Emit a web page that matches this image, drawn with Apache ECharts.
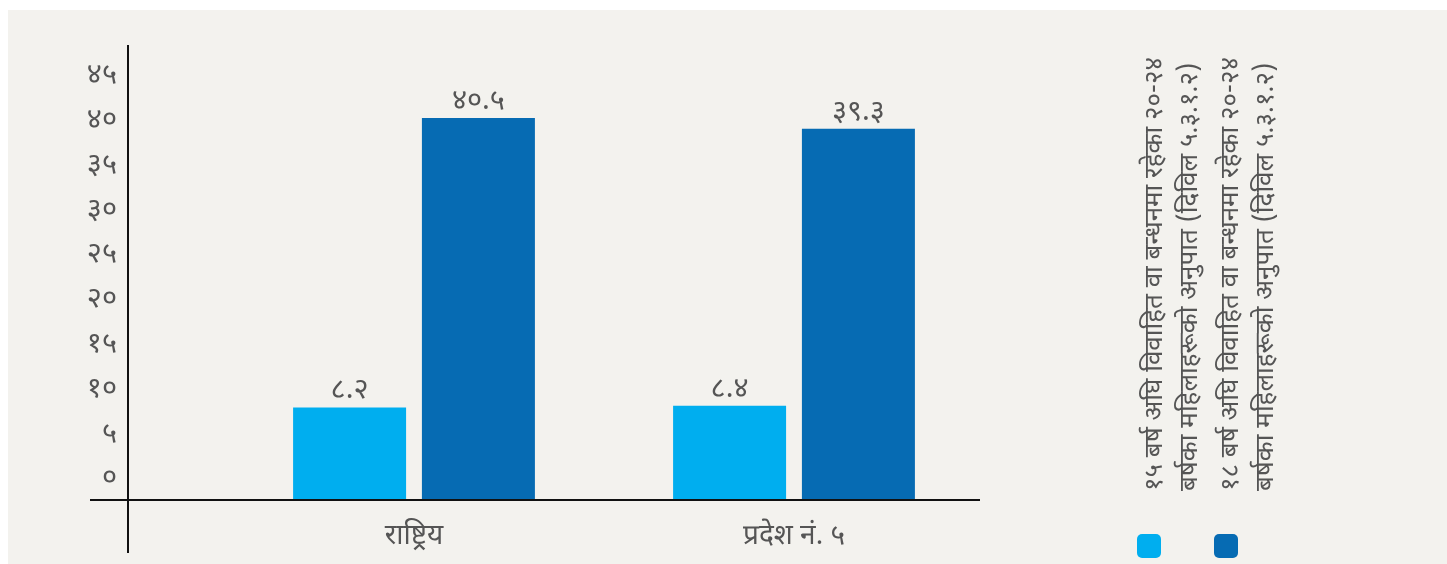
<!DOCTYPE html>
<html><head><meta charset="utf-8">
<script src="https://cdn.jsdelivr.net/npm/echarts@6/dist/echarts.min.js"></script>
<style>html,body{margin:0;padding:0;background:#fff;}#c{width:1447px;height:564px;}</style>
</head><body><div id="c"></div>
<script>
const categories = ['राष्ट्रिय', 'प्रदेश नं. ५'];
const series15 = [8.2, 8.4];
const series18 = [40.5, 39.3];
const seriesNames = [
  ['१५ बर्ष अघि विवाहित वा बन्धनमा रहेका २०-२४', 'बर्षका महिलाहरूको अनुपात (दिविल ५.३.१.२)'],
  ['१८ बर्ष अघि विवाहित वा बन्धनमा रहेका २०-२४', 'बर्षका महिलाहरूको अनुपात (दिविल ५.३.१.२)']
];
const yTicks = [0, 5, 10, 15, 20, 25, 30, 35, 40, 45];

const Y_FLOOR = -2.12, Y_TOP = 48.66;
const LIGHT = '#00aeef', DARK = '#066bb3', TXT = '#555555';
const FONT = '"Noto Sans Devanagari","Noto Sans","Lohit Devanagari",sans-serif';
const DEV = '०१२३४५६७८९';
const toDev = v => String(v).replace(/[0-9]/g, d => DEV[+d]);

const chart = echarts.init(document.getElementById('c'), null, {renderer: 'canvas'});
const base = categories.map(() => Y_FLOOR);
const barCommon = {type: 'bar', barWidth: 113, barGap: '14%'};
const lbl = {show: true, position: 'top', distance: 0, color: TXT, fontSize: 29, fontFamily: FONT,
  formatter: p => toDev(p.value.toFixed(1))};

const graphics = [
  {type: 'rect', shape: {x: 8, y: 10, width: 1439, height: 554}, style: {fill: '#f3f2ee'}, z: -10, silent: true},
  {type: 'line', shape: {x1: 90, y1: 500, x2: 980, y2: 500}, style: {stroke: '#111', lineWidth: 2}, z: 10},
  {type: 'line', shape: {x1: 128, y1: 45, x2: 128, y2: 553}, style: {stroke: '#111', lineWidth: 2}, z: 10},
  {type: 'rect', shape: {x: 1137, y: 534, width: 24, height: 24, r: 5}, style: {fill: LIGHT}},
  {type: 'rect', shape: {x: 1214, y: 534, width: 24, height: 24, r: 5}, style: {fill: DARK}}
];
const legX = [[1157, 1192], [1233, 1268]];
seriesNames.forEach((lines, i) => lines.forEach((t, j) => {
  graphics.push({type: 'text', x: legX[i][j], y: 491, rotation: Math.PI / 2,
    style: {text: t, fill: TXT, font: '26px ' + FONT, textAlign: 'left', textVerticalAlign: 'middle'}});
}));

chart.setOption({
  animation: false,
  backgroundColor: '#ffffff',
  grid: {left: 224, right: 463, top: 45, bottom: 64, containLabel: false},
  xAxis: {type: 'category', data: categories,
    axisLine: {show: false}, axisTick: {show: false},
    axisLabel: {color: TXT, fontSize: 28, fontFamily: FONT, margin: 25}},
  yAxis: {type: 'value', min: Y_FLOOR, max: Y_TOP, splitNumber: 10, offset: 96,
    axisLine: {show: false}, axisTick: {show: false}, splitLine: {show: false},
    showMinLabel: false, showMaxLabel: false,
    axisLabel: {color: TXT, fontSize: 29, fontFamily: FONT, margin: 11, padding: [0, 0, 0, 0],
      formatter: v => yTicks.includes(Math.round(v * 1000) / 1000) ? toDev(Math.round(v)) : ''}},
  graphic: graphics,
  series: [
    Object.assign({}, barCommon, {name: 'b1', stack: 'a', data: base, itemStyle: {color: LIGHT}, silent: true}),
    Object.assign({}, barCommon, {name: seriesNames[0].join(' '), stack: 'a', data: series15, itemStyle: {color: LIGHT}, label: lbl}),
    Object.assign({}, barCommon, {name: 'b2', stack: 'b', data: base, itemStyle: {color: DARK}, silent: true}),
    Object.assign({}, barCommon, {name: seriesNames[1].join(' '), stack: 'b', data: series18, itemStyle: {color: DARK}, label: lbl})
  ]
});
</script></body></html>
